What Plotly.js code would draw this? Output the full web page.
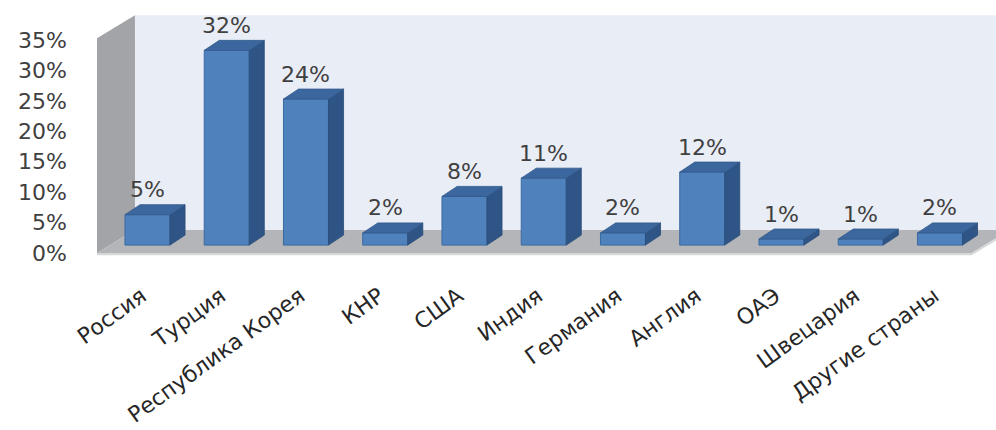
<!DOCTYPE html>
<html><head><meta charset="utf-8">
<script src="https://cdn.plot.ly/plotly-3.0.1.min.js"></script>
<style>html,body{margin:0;padding:0;background:#fff}#chart{width:996px;height:430px}</style>
</head><body><div id="chart"></div>
<script>
// ---- data ----
const categories = ["Россия","Турция","Республика Корея","КНР","США","Индия","Германия","Англия","ОАЭ","Швецария","Другие страны"];
const shares = [5, 32, 24, 2, 8, 11, 2, 12, 1, 1, 2];
const yTickVals = [0, 5, 10, 15, 20, 25, 30, 35];
const yTickText = ["0%","5%","10%","15%","20%","25%","30%","35%"];

// ---- 3D styling constants (in axis units) ----
const BASE = 1.3, W = 0.568, BDX = 0.19, BDY = 1.64;   // bar placement / depth
const WDX = 0.479, WDY = 3.78;                          // wall depth
const xIdx = categories.map((_, i) => i);

const frontTrace = {
  type: 'bar', x: xIdx, y: shares, base: BASE, width: W,
  marker: {color: '#4f81bd', line: {color: '#3b6aa0', width: 1}},
  hoverinfo: 'skip', showlegend: false
};
const sx = [], sy = [], tx = [], ty = [];
xIdx.forEach((i, k) => {
  const v = shares[k], r = i + W / 2, l = i - W / 2, top = BASE + v;
  sx.push(r, r + BDX, r + BDX, r, r, null);
  sy.push(BASE, BASE + BDY, top + BDY, top, BASE, null);
  tx.push(l, l + BDX, r + BDX, r, l, null);
  ty.push(top, top + BDY, top + BDY, top, top, null);
});
const sideTrace = {type: 'scatter', mode: 'lines', x: sx, y: sy, fill: 'toself',
  fillcolor: '#2f5586', line: {color: '#2a4c78', width: 0.8}, hoverinfo: 'skip', showlegend: false};
const topTrace = {type: 'scatter', mode: 'lines', x: tx, y: ty, fill: 'toself',
  fillcolor: '#3b679e', line: {color: '#325b8c', width: 0.8}, hoverinfo: 'skip', showlegend: false};

const annotations = xIdx.map((i, k) => ({
  x: i, y: BASE + shares[k], xref: 'x', yref: 'y', text: shares[k] + '%',
  showarrow: false, yanchor: 'middle', yshift: 25,
  font: {family: 'DejaVu Sans', size: 22, color: '#404040'}
}));

const XL = -0.637, XR = 10.40;
const shapes = [
  // back wall
  {type: 'path', layer: 'below', xref: 'x', yref: 'y',
   path: `M ${XL+WDX},${WDY} L ${XL+WDX},${35+WDY+0.3} L ${XR+WDX+1},${35+WDY+0.3} L ${XR+WDX+1},${WDY} Z`,
   fillcolor: '#e9edf6', line: {width: 0}},
  // side wall
  {type: 'path', layer: 'below', xref: 'x', yref: 'y',
   path: `M ${XL},0 L ${XL},35.3 L ${XL+WDX},${35+WDY+0.3} L ${XL+WDX},${WDY} Z`,
   fillcolor: '#a2a4a7', line: {width: 0}},
  // floor
  {type: 'path', layer: 'below', xref: 'x', yref: 'y',
   path: `M ${XL},0 L ${XL+WDX},${WDY} L ${XR+WDX},${WDY} L ${XR},0 Z`,
   fillcolor: '#b3b5b8', line: {width: 0}},
  // floor thickness
  {type: 'path', layer: 'below', xref: 'x', yref: 'y',
   path: `M ${XL},0 L ${XR},0 L ${XR+WDX},${WDY} L ${XR+WDX},${WDY-0.35} L ${XR},-0.35 L ${XL},-0.35 Z`,
   fillcolor: '#d6d7d9', line: {width: 0}}
];

const layout = {
  width: 996, height: 430,
  margin: {l: 68, r: 0, t: 5, b: 165},
  paper_bgcolor: '#ffffff', plot_bgcolor: 'rgba(0,0,0,0)',
  showlegend: false,
  xaxis: {range: [-1.003, 10.707], tickvals: xIdx, ticktext: categories, tickangle: -36,
    showgrid: false, zeroline: false, showline: false, ticks: '', ticklabelstandoff: 13, ticklabelshift: -6,
    tickfont: {family: 'DejaVu Sans', size: 22, color: '#262626'}, fixedrange: true},
  yaxis: {range: [-1.972, 40.75], tickvals: yTickVals, ticktext: yTickText,
    showgrid: false, zeroline: false, showline: false, ticks: '',
    tickfont: {family: 'DejaVu Sans', size: 22, color: '#404040'}, fixedrange: true},
  shapes: shapes,
  annotations: annotations
};
Plotly.newPlot('chart', [frontTrace, sideTrace, topTrace], layout, {staticPlot: true});
</script></body></html>
